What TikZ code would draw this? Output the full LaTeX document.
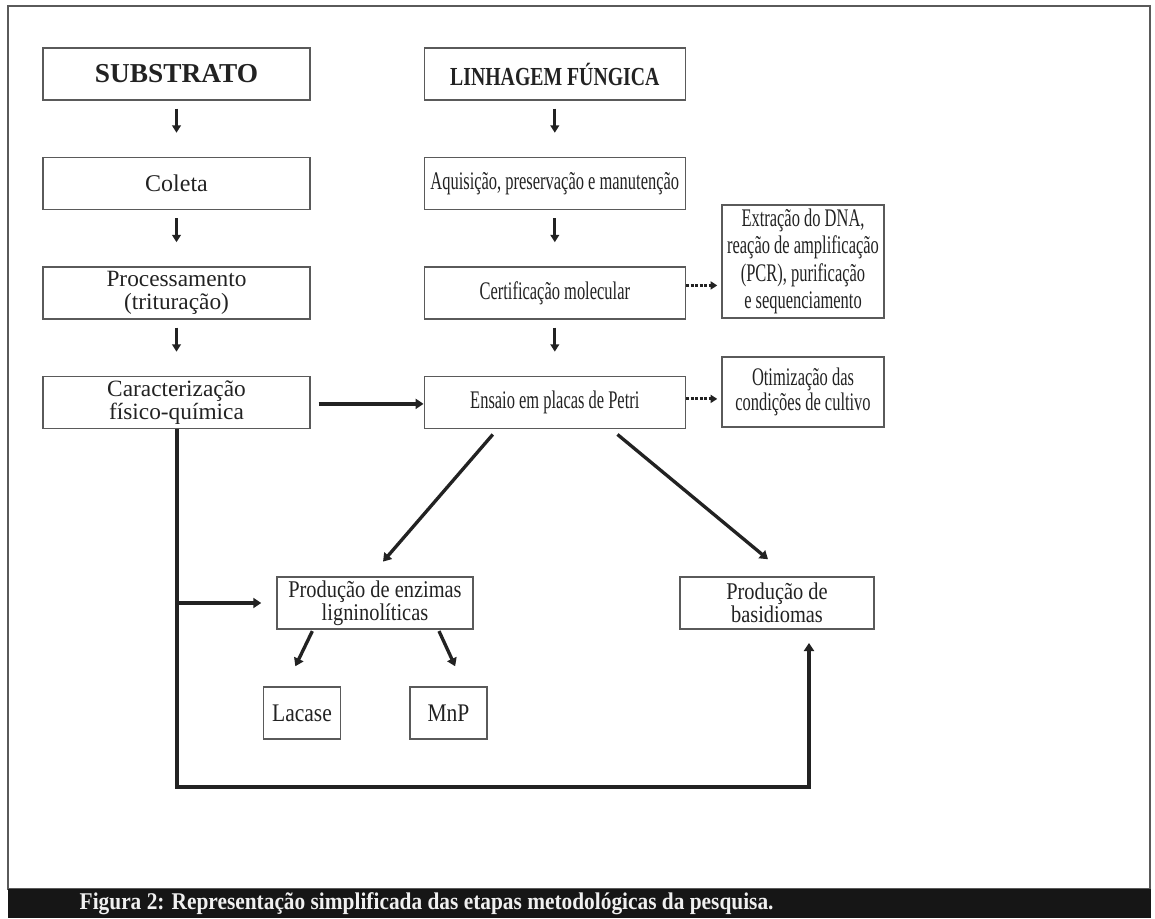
\documentclass[tikz,border=0pt]{standalone}
\usepackage{fontspec}
\setmainfont{Liberation Serif}
\newfontfamily\narrowfont{Liberation Serif}[FakeStretch=0.65]
\newfontfamily\midfont{Liberation Serif}[FakeStretch=0.85]
\newfontfamily\headfont{Liberation Serif}[FakeStretch=0.76]
\newfontfamily\capfont{Liberation Serif}[FakeStretch=0.89]
\usetikzlibrary{positioning, arrows.meta, calc}
\definecolor{boxline}{HTML}{5A5A5A}
\definecolor{inkgray}{HTML}{222222}
\definecolor{barblack}{HTML}{161616}

\begin{document}
\begin{tikzpicture}[
	  x=0.75pt, y=-0.75pt,
	  font=\fontsize{17.5}{17}\selectfont,
	  text=inkgray,
	  node distance=42pt and 84.75pt,
	  box/.style={
	    draw=boxline,
	    line width=1.1pt,
	    align=center,
	    inner sep=2pt,
	    minimum width=200pt,
	    minimum height=39pt
	  },
	  rightbox/.style={box,minimum width=195.75pt,font=\fontsize{19}{18}\selectfont\narrowfont},
	  sidebox/.style={box,minimum width=121.5pt,font=\fontsize{19}{20.5}\selectfont\narrowfont},
	  lowbox/.style={box,minimum width=146pt,font=\fontsize{18}{17}\selectfont\midfont},
	  smallbox/.style={box,minimum width=58pt,font=\fontsize{19}{18}\selectfont\midfont},
	  titlebox/.style={box,font=\fontsize{20.5}{20}\selectfont\bfseries},
	  stepdown/.style={-{Triangle[width=6.5pt,length=5.5pt]},line width=2pt,draw=inkgray},
	  flow/.style={-{Triangle[width=7.5pt,length=6pt]},line width=3pt,draw=inkgray},
	  slant/.style={-{Triangle[width=7.5pt,length=6pt]},line width=2.5pt,draw=inkgray},
	  dotflow/.style={-{Triangle[width=6pt,length=5pt]},line width=2.2pt,draw=inkgray,dash pattern=on 2.3pt off 1.1pt}
	]
	\useasboundingbox (0,0) rectangle (1155,918);

	% --- Frame and caption ---
	\draw[boxline, line width=1.5pt] (8,6) rectangle (1150,889);
	\fill[barblack] (8,889) rectangle (1151,918);
	\node[anchor=west, text=white!94!black, font=\fontsize{18}{18}\selectfont\capfont\bfseries] (caption) at (75,903.5)
	  {Figura 2: Representação simplificada das etapas metodológicas da pesquisa.};

	% --- Left column ---
	\node[titlebox] (subst) at (176.5,74) {SUBSTRATO};
	\node[box, below=of subst] (coleta) {\fontsize{18}{18}\selectfont Coleta};
	\node[box, below=of coleta] (proc) {Processamento\\(trituração)};
	\node[box, below=of proc] (carac) {Caracterização\\físico-química};

	% --- Right column ---
	\node[titlebox, right=of subst, minimum width=195.75pt, font=\fontsize{19.5}{19}\selectfont\headfont\bfseries] (linh) {LINHAGEM FÚNGICA};
	\node[rightbox, below=of linh] (aquis) {Aquisição, preservação e manutenção};
	\node[rightbox, below=of aquis] (cert) {Certificação molecular};
	\node[rightbox, below=of cert] (ensaio) {Ensaio em placas de Petri};

	% --- Side boxes ---
	\node[sidebox, minimum height=84.75pt] (extr) at (803,261.5) {Extração do DNA,\\reação de amplificação\\(PCR), purificação\\e sequenciamento};
	\node[sidebox, minimum height=52.5pt, font=\fontsize{19}{17}\selectfont\narrowfont] (otim) at (803,392) {Otimização das\\condições de cultivo};

	% --- Products ---
	\node[lowbox, minimum width=147pt] (enz) at (375,603) {Produção de enzimas\\ligninolíticas};
	\node[lowbox, minimum width=145.5pt] (basid) at (777,603) {Produção de\\basidiomas};
	\node[smallbox] (lacase) at (302,713) {Lacase};
	\node[smallbox] (mnp) at (448.5,713) {MnP};

	\coordinate (loopbase) at (809,787);
	\coordinate (basidin) at (809,643);

	% --- Flows ---
	\draw[stepdown] ([yshift=-6pt]subst.south) -- ([yshift=18pt]coleta.north);
	\draw[stepdown] ([yshift=-6pt]coleta.south) -- ([yshift=18pt]proc.north);
	\draw[stepdown] ([yshift=-6pt]proc.south) -- ([yshift=18pt]carac.north);
	\draw[stepdown] ([yshift=-6pt]linh.south) -- ([yshift=18pt]aquis.north);
	\draw[stepdown] ([yshift=-6pt]aquis.south) -- ([yshift=18pt]cert.north);
	\draw[stepdown] ([yshift=-6pt]cert.south) -- ([yshift=18pt]ensaio.north);

	\draw[flow] ($(carac.east)+(8,1.5)$) -- ($(ensaio.west)+(0,1.5)$);
	\draw[dotflow] ($(cert.east)+(0,-7.5)$) -- ($(cert.east -| extr.west)+(-4,-7.5)$);
	\draw[dotflow] ($(ensaio.east)+(0,-3.5)$) -- ($(ensaio.east -| otim.west)+(-4,-3.5)$);

	\draw[slant] ([xshift=-46.5pt,yshift=-4pt]ensaio.south) -- ([xshift=6pt,yshift=11pt]enz.north);
	\draw[slant] ([xshift=47pt,yshift=-4pt]ensaio.south) -- ([xshift=-6.75pt,yshift=12.75pt]basid.north);
	\draw[slant] ([xshift=-47pt,yshift=-1pt]enz.south) -- ([xshift=-5pt,yshift=15pt]lacase.north);
	\draw[slant] ([xshift=48pt,yshift=-1pt]enz.south) -- ([xshift=5pt,yshift=15pt]mnp.north);

	\draw[flow] (carac.south |- enz.west) -- ([xshift=-11.25pt]enz.west);
	\draw[flow] (carac.south) |- (loopbase) -- (basidin);

	\end{tikzpicture}
\end{document}
